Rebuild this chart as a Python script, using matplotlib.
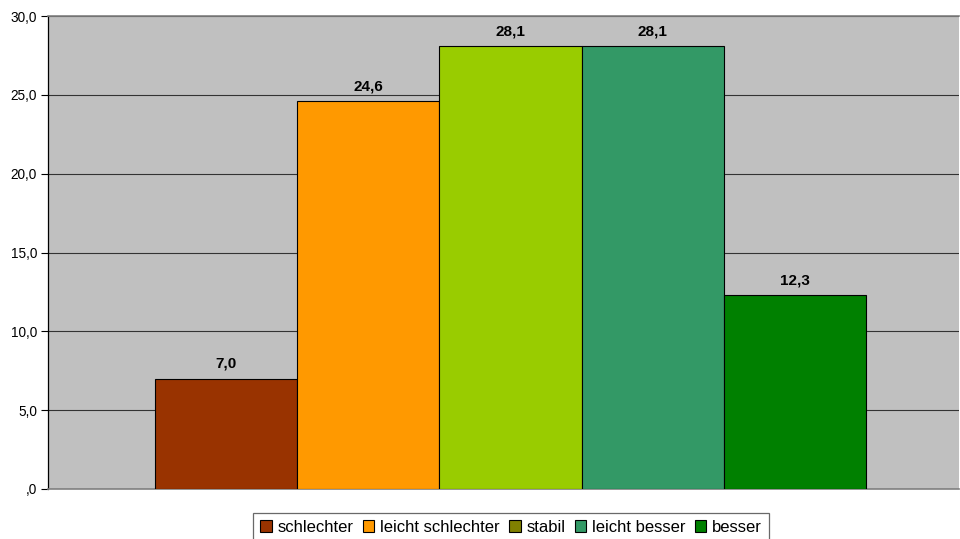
import matplotlib
matplotlib.use("Agg")
import matplotlib.pyplot as plt
from matplotlib.patches import Patch

categories = ["schlechter", "leicht schlechter", "stabil", "leicht besser", "besser"]
values = [7.0, 24.6, 28.1, 28.1, 12.3]
bar_colors = ["#993300", "#FF9900", "#99CC00", "#339966", "#008000"]
legend_colors = ["#993300", "#FF9900", "#808000", "#339966", "#008000"]
yticks = [0, 5, 10, 15, 20, 25, 30]
ytick_labels = [",0", "5,0", "10,0", "15,0", "20,0", "25,0", "30,0"]

plt.rcParams['font.family'] = ['Liberation Sans', 'DejaVu Sans']

fig = plt.figure(figsize=(9.6, 5.39), dpi=100)
ax = fig.add_axes([48/960, 50/539, (959-48)/960, (489-16)/539])
ax.set_facecolor("#C0C0C0")

x = list(range(len(values)))
ax.bar(x, values, width=1.0, color=bar_colors, edgecolor="black", linewidth=0.8, zorder=3)
for xi, v in zip(x, values):
    ax.text(xi, v + 0.5, f"{v:.1f}".replace(".", ","), ha="center", va="bottom",
            fontsize=11, fontweight="bold", zorder=4)

ax.set_xlim(-1.252, 5.154)
ax.set_ylim(0, 30)
ax.set_yticks(yticks)
ax.set_yticklabels(ytick_labels, fontsize=9.8)
ax.set_xticks([])
ax.yaxis.grid(True, color="#333333", linewidth=0.8, zorder=1)
ax.set_axisbelow(True)
ax.tick_params(axis="y", length=5, width=0.8, color="black", pad=3)
ax.spines["left"].set_color("black")
ax.spines["left"].set_linewidth(0.9)
ax.spines["bottom"].set_color("#808080")
ax.spines["bottom"].set_linewidth(1.2)
ax.spines["top"].set_color("#808080")
ax.spines["top"].set_linewidth(1.2)
ax.spines["right"].set_visible(False)

handles = [Patch(facecolor=c, edgecolor="black", linewidth=0.8) for c in legend_colors]
leg = fig.legend(handles, categories, loc="upper center", bbox_to_anchor=(511/960, 26/539),
                 ncol=5, fontsize=12, frameon=True, fancybox=False, handlelength=0.7,
                 handleheight=0.7, handletextpad=0.35, columnspacing=0.55, borderpad=0.4,
                 borderaxespad=0)
leg.get_frame().set_edgecolor("#444444")
leg.get_frame().set_linewidth(0.9)

fig.savefig("out.png", dpi=100)
